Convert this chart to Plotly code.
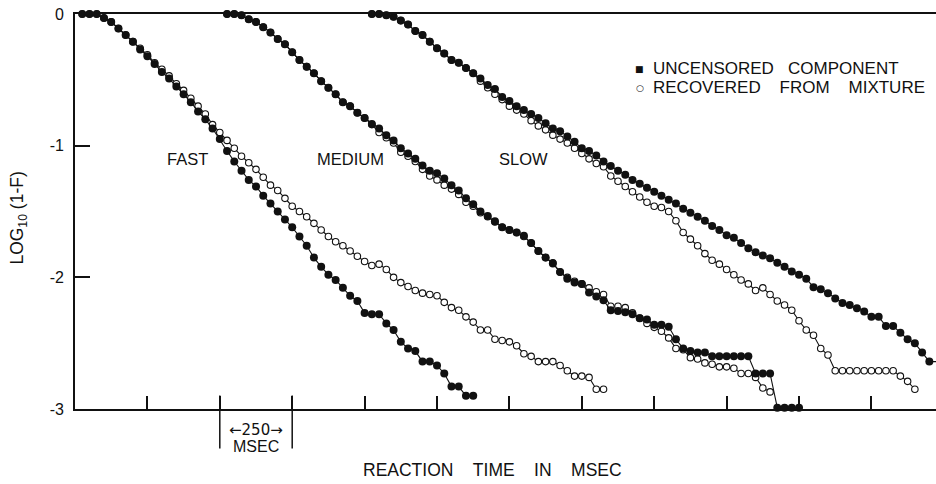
import plotly.graph_objects as go

# Survivor curves, log10(1 - F), sampled every 25 msec.
BIN_MS = 25

# Fast condition (first bin index 1)
fast_start = 1
fast_uncensored = [
    0, 0, 0, -0.03, -0.06, -0.11, -0.16, -0.21, -0.27, -0.32,
    -0.38, -0.44, -0.49, -0.55, -0.61, -0.67, -0.74, -0.80, -0.87, -0.95,
    -1.04, -1.12, -1.19, -1.26, -1.31, -1.38, -1.44, -1.50, -1.56, -1.62,
    -1.69, -1.76, -1.85, -1.92, -1.98, -2.02, -2.08, -2.14, -2.18, -2.27,
    -2.28, -2.28, -2.35, -2.40, -2.49, -2.54, -2.56, -2.64, -2.64, -2.67,
    -2.73, -2.83, -2.83, -2.90, -2.90,
]
fast_recovered = [
    0, 0, 0, -0.03, -0.06, -0.11, -0.16, -0.21, -0.26, -0.31,
    -0.37, -0.42, -0.47, -0.53, -0.58, -0.64, -0.70, -0.76, -0.84, -0.90,
    -0.96, -1.02, -1.08, -1.13, -1.18, -1.24, -1.30, -1.34, -1.40, -1.46,
    -1.50, -1.54, -1.59, -1.64, -1.69, -1.73, -1.76, -1.80, -1.84, -1.88,
    -1.91, -1.90, -1.94, -2.00, -2.04, -2.07, -2.10, -2.12, -2.13, -2.14,
    -2.19, -2.23, -2.25, -2.30, -2.34, -2.40, -2.40, -2.47, -2.48, -2.49,
    -2.52, -2.58, -2.60, -2.64, -2.64, -2.64, -2.67, -2.71, -2.75, -2.75,
    -2.76, -2.85, -2.85,
]

# Medium condition (first bin index 21)
medium_start = 21
medium_uncensored = [
    0, 0, -0.01, -0.04, -0.06, -0.10, -0.14, -0.19, -0.23, -0.29,
    -0.35, -0.40, -0.45, -0.51, -0.56, -0.61, -0.67, -0.70, -0.75, -0.79,
    -0.835, -0.87, -0.92, -0.96, -1.02, -1.06, -1.10, -1.15, -1.19, -1.21,
    -1.25, -1.30, -1.34, -1.40, -1.445, -1.50, -1.535, -1.575, -1.62, -1.64,
    -1.66, -1.685, -1.74, -1.80, -1.85, -1.895, -1.96, -2.01, -2.04, -2.05,
    -2.115, -2.145, -2.175, -2.25, -2.255, -2.265, -2.28, -2.31, -2.32, -2.36,
    -2.36, -2.375, -2.47, -2.54, -2.56, -2.57, -2.57, -2.60, -2.60, -2.60,
    -2.60, -2.60, -2.60, -2.73, -2.73, -2.73, -2.99, -2.99, -2.99, -2.99,
]
medium_recovered = [
    0, 0, -0.01, -0.04, -0.06, -0.10, -0.14, -0.19, -0.23, -0.29,
    -0.35, -0.40, -0.45, -0.51, -0.56, -0.61, -0.67, -0.70, -0.75, -0.79,
    -0.84, -0.90, -0.94, -0.98, -1.05, -1.08, -1.12, -1.18, -1.23, -1.26,
    -1.30, -1.33, -1.37, -1.43, -1.46, -1.51, -1.54, -1.58, -1.62, -1.64,
    -1.66, -1.69, -1.74, -1.80, -1.85, -1.89, -1.96, -2.00, -2.03, -2.05,
    -2.08, -2.11, -2.13, -2.22, -2.22, -2.23, -2.27, -2.31, -2.35, -2.38,
    -2.41, -2.46, -2.54, -2.55, -2.61, -2.62, -2.65, -2.66, -2.68, -2.68,
    -2.69, -2.73, -2.73, -2.76, -2.84, -2.87,
]

# Slow condition (first bin index 41)
slow_start = 41
slow_uncensored = [
    0, 0, -0.01, -0.02, -0.05, -0.08, -0.13, -0.16, -0.21, -0.26,
    -0.30, -0.35, -0.37, -0.41, -0.45, -0.49, -0.54, -0.57, -0.63, -0.66,
    -0.70, -0.73, -0.76, -0.79, -0.83, -0.87, -0.89, -0.93, -0.97, -1.02,
    -1.04, -1.075, -1.12, -1.155, -1.19, -1.22, -1.26, -1.29, -1.32, -1.35,
    -1.38, -1.41, -1.44, -1.48, -1.51, -1.54, -1.57, -1.61, -1.64, -1.68,
    -1.70, -1.74, -1.78, -1.81, -1.835, -1.855, -1.89, -1.92, -1.955, -1.98,
    -2.01, -2.075, -2.09, -2.12, -2.16, -2.195, -2.21, -2.235, -2.26, -2.30,
    -2.30, -2.37, -2.37, -2.42, -2.47, -2.50, -2.57, -2.64, -2.64,
]
slow_recovered = [
    0, 0, -0.01, -0.02, -0.05, -0.08, -0.13, -0.16, -0.21, -0.26,
    -0.30, -0.35, -0.37, -0.41, -0.45, -0.51, -0.56, -0.61, -0.65, -0.70,
    -0.73, -0.76, -0.81, -0.85, -0.88, -0.92, -0.95, -0.98, -1.02, -1.06,
    -1.10, -1.135, -1.16, -1.23, -1.27, -1.31, -1.35, -1.39, -1.43, -1.46,
    -1.47, -1.50, -1.57, -1.66, -1.71, -1.76, -1.82, -1.87, -1.90, -1.94,
    -1.98, -2.02, -2.05, -2.10, -2.08, -2.13, -2.18, -2.21, -2.25, -2.33,
    -2.40, -2.44, -2.54, -2.59, -2.71, -2.71, -2.71, -2.71, -2.71, -2.71,
    -2.71, -2.71, -2.71, -2.75, -2.79, -2.85,
]

x_ticks_ms = [250, 500, 750, 1000, 1250, 1500, 1750, 2000, 2250, 2500, 2750]
y_ticks = [0, -1, -2, -3]
y_tick_labels = ["0", "-1", "-2", "-3"]

FONT = "Liberation Sans, Arial, sans-serif"
INK = "#111111"


def times(start, values):
    return [(start + i) * BIN_MS for i in range(len(values))]


filled = dict(symbol="circle", size=8, color=INK, line=dict(width=0))
hollow = dict(symbol="circle", size=6.5, color="white", line=dict(width=1.1, color=INK))
link = dict(color=INK, width=1.1)

fig = go.Figure()
groups = [
    (fast_start, fast_uncensored, fast_start, fast_recovered),
    (medium_start, medium_uncensored, medium_start, medium_recovered),
    (slow_start, slow_uncensored, slow_start, slow_recovered),
]
for us, uv, rs, rv in groups:
    fig.add_trace(go.Scatter(x=times(rs, rv), y=rv, mode="lines+markers",
                             marker=hollow, line=link, cliponaxis=False,
                             showlegend=False, hoverinfo="skip"))
    fig.add_trace(go.Scatter(x=times(us, uv), y=uv, mode="lines+markers",
                             marker=filled, line=link, cliponaxis=False,
                             showlegend=False, hoverinfo="skip"))

annotations = []

# condition labels
for label, xm in [("FAST", 389), ("MEDIUM", 952), ("SLOW", 1548)]:
    annotations.append(dict(x=xm, y=-1.105, xref="x", yref="y", text=label,
                            showarrow=False, font=dict(family=FONT, size=16.5, color=INK)))

# key
nb = "\u00a0"
annotations += [
    dict(x=1950, y=-0.415, xref="x", yref="y", text="\u25a0", showarrow=False,
         font=dict(family="DejaVu Sans", size=9, color=INK)),
    dict(x=1950, y=-0.56, xref="x", yref="y", text="\u25cb", showarrow=False,
         font=dict(family="DejaVu Sans", size=9, color=INK)),
    dict(x=1990, y=-0.415, xref="x", yref="y", xanchor="left",
         text="UNCENSORED" + nb * 3 + "COMPONENT", showarrow=False,
         font=dict(family=FONT, size=17, color=INK)),
    dict(x=1990, y=-0.56, xref="x", yref="y", xanchor="left",
         text="RECOVERED" + nb * 4 + "FROM" + nb * 4 + "MIXTURE", showarrow=False,
         font=dict(family=FONT, size=17, color=INK)),
]

# scale bar under the axis
annotations += [
    dict(x=625, y=-0.052, xref="x", yref="paper", yanchor="middle",
         text="\u2190250\u2192", showarrow=False,
         font=dict(family="DejaVu Sans", size=15, color=INK)),
    dict(x=625, y=-0.096, xref="x", yref="paper", yanchor="middle",
         text="MSEC", showarrow=False, font=dict(family=FONT, size=16, color=INK)),
]

# axis titles
annotations += [
    dict(x=1442, y=-0.154, xref="x", yref="paper", yanchor="middle",
         text="REACTION" + nb * 4 + "TIME" + nb * 4 + "IN" + nb * 4 + "MSEC",
         showarrow=False, font=dict(family=FONT, size=17.5, color=INK)),
    dict(x=-0.0656, y=-1.55, xref="paper", yref="y", xanchor="center", yanchor="middle",
         textangle=-90, text="LOG<sub>10</sub> (1-F)", showarrow=False,
         font=dict(family=FONT, size=17.5, color=INK)),
]

shapes = [
    dict(type="line", xref="x", yref="paper", x0=xm, x1=xm, y0=0.034, y1=-0.1,
         line=dict(color=INK, width=1.5))
    for xm in (500, 750)
]

fig.update_layout(
    width=936, height=484,
    margin=dict(l=75, r=0, t=14, b=75, pad=0),
    paper_bgcolor="white", plot_bgcolor="white",
    showlegend=False,
    annotations=annotations,
    shapes=shapes,
    xaxis=dict(range=[0, 2973], showgrid=False, zeroline=False,
               showline=True, linecolor=INK, linewidth=1.8, mirror=True,
               ticks="inside", ticklen=13, tickwidth=1.5, tickcolor=INK,
               tickvals=x_ticks_ms, showticklabels=False),
    yaxis=dict(range=[-3, 0], showgrid=False, zeroline=False,
               showline=True, linecolor=INK, linewidth=1.8,
               ticks="inside", ticklen=15, tickwidth=1.5, tickcolor=INK,
               tickvals=y_ticks, ticktext=y_tick_labels,
               tickfont=dict(family=FONT, size=16, color=INK),
               ticklabelstandoff=6),
)

fig.write_html("out.html")
